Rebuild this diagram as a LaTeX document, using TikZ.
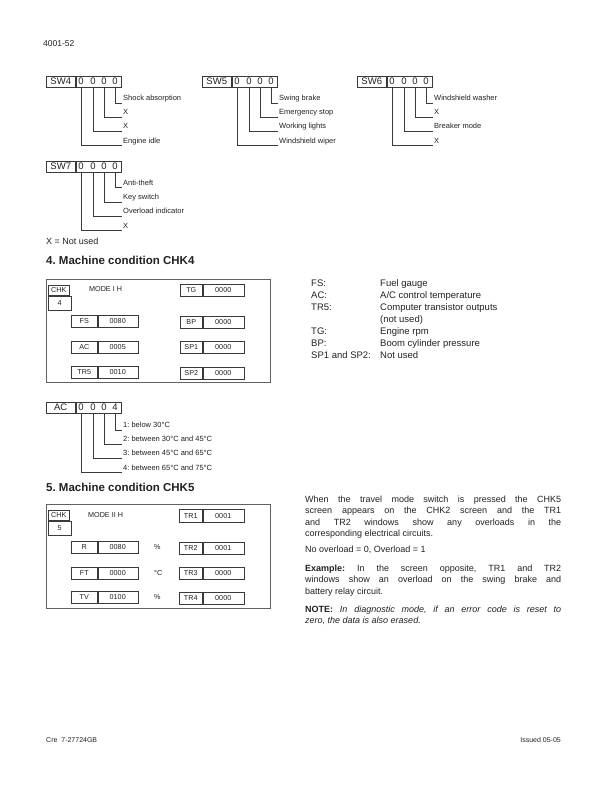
\documentclass[tikz,border=0pt]{standalone}
\usepackage{fontspec}
\setmainfont{Liberation Sans}
\usetikzlibrary{positioning}
\definecolor{inkgrey}{HTML}{222222}
\definecolor{wiregrey}{HTML}{3A3A3A}

\begin{document}
\frenchspacing
\begin{tikzpicture}[
  x=1pt, y=-1pt,
  font=\fontsize{7.5}{9}\selectfont, text=inkgrey,
  cell/.style={draw=wiregrey, line width=0.5pt, minimum height=11.5pt, inner sep=0pt, anchor=north west, font=\fontsize{9.5}{11}\selectfont},
  bit/.style={inner sep=0pt, font=\fontsize{9.5}{11}\selectfont},
  bitlabel/.style={anchor=base west, inner sep=1pt},
  wire/.style={draw=wiregrey, line width=0.5pt},
  scr/.style={draw=wiregrey, line width=0.5pt, minimum height=12pt, inner sep=0pt, anchor=north west, font=\fontsize{7.2}{8}\selectfont},
  scrtext/.style={inner sep=0pt, font=\fontsize{7.2}{8}\selectfont},
  frame/.style={draw=wiregrey!80, line width=0.7pt, inner sep=0pt, anchor=north west},
  body/.style={font=\fontsize{9}{11.3}\selectfont, anchor=north west, inner sep=0pt, text width=256pt, align=justify},
  heading/.style={font=\bfseries\fontsize{11.5}{13}\selectfont, anchor=west, inner sep=0pt}
]
\useasboundingbox[fill=white] (0,0) rectangle (612,792);

\node[anchor=west, inner sep=0pt, font=\fontsize{8.5}{10}\selectfont] (pageno) at (43,44) {4001-52};

% SW4
\node[cell, minimum width=29pt] (sw4) at (46,75.5) {SW4};
\node[cell, minimum width=45pt, right=0pt of sw4] (sw4v) {};
\node[bit] (sw4a) at (81,81.25) {0};
\node[bit] (sw4b) at (93,81.25) {0};
\node[bit] (sw4c) at (104,81.25) {0};
\node[bit] (sw4d) at (115,81.25) {0};
\node[bitlabel] (sw4l1) at (122,100.5) {Shock absorption};
\node[bitlabel] (sw4l2) at (122,114.5) {X};
\node[bitlabel] (sw4l3) at (122,128.5) {X};
\node[bitlabel] (sw4l4) at (122,143) {Engine idle};
\draw[wire] (sw4d |- sw4v.south) |- ([yshift=-2.5pt]sw4l1.base west);
\draw[wire] (sw4c |- sw4v.south) |- ([yshift=-2.5pt]sw4l2.base west);
\draw[wire] (sw4b |- sw4v.south) |- ([yshift=-2.5pt]sw4l3.base west);
\draw[wire] (sw4a |- sw4v.south) |- ([yshift=-2.5pt]sw4l4.base west);

% SW5
\node[cell, minimum width=29pt] (sw5) at (202,75.5) {SW5};
\node[cell, minimum width=45pt, right=0pt of sw5] (sw5v) {};
\node[bit] (sw5a) at (237,81.25) {0};
\node[bit] (sw5b) at (249,81.25) {0};
\node[bit] (sw5c) at (260,81.25) {0};
\node[bit] (sw5d) at (271,81.25) {0};
\node[bitlabel] (sw5l1) at (278,100.5) {Swing brake};
\node[bitlabel] (sw5l2) at (278,114.5) {Emergency stop};
\node[bitlabel] (sw5l3) at (278,128.5) {Working lights};
\node[bitlabel] (sw5l4) at (278,143) {Windshield wiper};
\draw[wire] (sw5d |- sw5v.south) |- ([yshift=-2.5pt]sw5l1.base west);
\draw[wire] (sw5c |- sw5v.south) |- ([yshift=-2.5pt]sw5l2.base west);
\draw[wire] (sw5b |- sw5v.south) |- ([yshift=-2.5pt]sw5l3.base west);
\draw[wire] (sw5a |- sw5v.south) |- ([yshift=-2.5pt]sw5l4.base west);

% SW6
\node[cell, minimum width=29pt] (sw6) at (357,75.5) {SW6};
\node[cell, minimum width=45pt, right=0pt of sw6] (sw6v) {};
\node[bit] (sw6a) at (392,81.25) {0};
\node[bit] (sw6b) at (404,81.25) {0};
\node[bit] (sw6c) at (415,81.25) {0};
\node[bit] (sw6d) at (426,81.25) {0};
\node[bitlabel] (sw6l1) at (433,100.5) {Windshield washer};
\node[bitlabel] (sw6l2) at (433,114.5) {X};
\node[bitlabel] (sw6l3) at (433,128.5) {Breaker mode};
\node[bitlabel] (sw6l4) at (433,143) {X};
\draw[wire] (sw6d |- sw6v.south) |- ([yshift=-2.5pt]sw6l1.base west);
\draw[wire] (sw6c |- sw6v.south) |- ([yshift=-2.5pt]sw6l2.base west);
\draw[wire] (sw6b |- sw6v.south) |- ([yshift=-2.5pt]sw6l3.base west);
\draw[wire] (sw6a |- sw6v.south) |- ([yshift=-2.5pt]sw6l4.base west);

% SW7
\node[cell, minimum width=29pt] (sw7) at (46,160.5) {SW7};
\node[cell, minimum width=45pt, right=0pt of sw7] (sw7v) {};
\node[bit] (sw7a) at (81,166.25) {0};
\node[bit] (sw7b) at (93,166.25) {0};
\node[bit] (sw7c) at (104,166.25) {0};
\node[bit] (sw7d) at (115,166.25) {0};
\node[bitlabel] (sw7l1) at (122,185) {Anti-theft};
\node[bitlabel] (sw7l2) at (122,199.5) {Key switch};
\node[bitlabel] (sw7l3) at (122,213.5) {Overload indicator};
\node[bitlabel] (sw7l4) at (122,228) {X};
\draw[wire] (sw7d |- sw7v.south) |- ([yshift=-2.5pt]sw7l1.base west);
\draw[wire] (sw7c |- sw7v.south) |- ([yshift=-2.5pt]sw7l2.base west);
\draw[wire] (sw7b |- sw7v.south) |- ([yshift=-2.5pt]sw7l3.base west);
\draw[wire] (sw7a |- sw7v.south) |- ([yshift=-2.5pt]sw7l4.base west);

\node[anchor=west, inner sep=0pt, font=\fontsize{9}{11}\selectfont] (notused) at (46,241) {X = Not used};

% CHK4
\node[heading] (h4) at (46,260) {4. Machine condition CHK4};
\node[frame, minimum width=224pt, minimum height=103pt] (chk4) at (46,279) {};
\node[scr, minimum width=21pt, minimum height=10pt] (chk4a) at (48,285) {CHK};
\node[scr, minimum width=23pt, minimum height=14pt, below=0pt of chk4a.south west, anchor=north west] (chk4b) {4};
\node[scrtext, anchor=west] (mode4) at (89,289) {MODE I H};
\node[scr, minimum width=26pt] (fs) at (71,315) {FS};
\node[scr, minimum width=40pt, right=0pt of fs] (fsv) {0080};
\node[scr, minimum width=26pt, below=13pt of fs] (ac) {AC};
\node[scr, minimum width=40pt, right=0pt of ac] (acv) {0005};
\node[scr, minimum width=26pt, below=13pt of ac] (tr5) {TR5};
\node[scr, minimum width=40pt, right=0pt of tr5] (tr5v) {0010};
\node[scr, minimum width=22pt] (tg) at (180,284) {TG};
\node[scr, minimum width=41pt, right=0pt of tg] (tgv) {0000};
\node[scr, minimum width=22pt, below=19pt of tg] (bp) {BP};
\node[scr, minimum width=41pt, right=0pt of bp] (bpv) {0000};
\node[scr, minimum width=22pt, below=13pt of bp] (sp1) {SP1};
\node[scr, minimum width=41pt, right=0pt of sp1] (sp1v) {0000};
\node[scr, minimum width=22pt, below=13pt of sp1] (sp2) {SP2};
\node[scr, minimum width=41pt, right=0pt of sp2] (sp2v) {0000};

\node[anchor=north west, inner sep=0pt, font=\fontsize{9.5}{12}\selectfont] (legend4) at (311,277.5) {%
  \begin{tabular}{@{}p{69pt}@{}l@{}}
  FS: & Fuel gauge\\
  AC: & A/C control temperature\\
  TR5: & Computer transistor outputs\\
   & (not used)\\
  TG: & Engine rpm\\
  BP: & Boom cylinder pressure\\
  SP1 and SP2: & Not used
  \end{tabular}};

% AC register
\node[cell, minimum width=29pt] (acr) at (46,401.5) {AC};
\node[cell, minimum width=45pt, right=0pt of acr] (acrv) {};
\node[bit] (acra) at (81,407.25) {0};
\node[bit] (acrb) at (93,407.25) {0};
\node[bit] (acrc) at (104,407.25) {0};
\node[bit] (acrd) at (115,407.25) {4};
\node[bitlabel] (acl1) at (122,427.5) {1: below 30°C};
\node[bitlabel] (acl2) at (122,441.5) {2: between 30°C and 45°C};
\node[bitlabel] (acl3) at (122,455.5) {3: between 45°C and 65°C};
\node[bitlabel] (acl4) at (122,470) {4: between 65°C and 75°C};
\draw[wire] (acrd |- acrv.south) |- ([yshift=-2.5pt]acl1.base west);
\draw[wire] (acrc |- acrv.south) |- ([yshift=-2.5pt]acl2.base west);
\draw[wire] (acrb |- acrv.south) |- ([yshift=-2.5pt]acl3.base west);
\draw[wire] (acra |- acrv.south) |- ([yshift=-2.5pt]acl4.base west);

% CHK5
\node[heading] (h5) at (46,487) {5. Machine condition CHK5};
\node[frame, minimum width=224pt, minimum height=104pt] (chk5) at (46,504) {};
\node[scr, minimum width=21pt, minimum height=10pt] (chk5a) at (48,510) {CHK};
\node[scr, minimum width=23pt, minimum height=14pt, below=0pt of chk5a.south west, anchor=north west] (chk5b) {5};
\node[scrtext, anchor=west] (mode5) at (88,515) {MODE II H};
\node[scr, minimum width=26pt] (r) at (71,541) {R};
\node[scr, minimum width=40pt, right=0pt of r] (rv) {0080};
\node[scr, minimum width=26pt, below=13pt of r] (ft) {FT};
\node[scr, minimum width=40pt, right=0pt of ft] (ftv) {0000};
\node[scr, minimum width=26pt, below=12pt of ft] (tv) {TV};
\node[scr, minimum width=40pt, right=0pt of tv] (tvv) {0100};
\node[scrtext, right=16pt of rv] (ru) {\%};
\node[scrtext, right=16pt of ftv] (ftu) {°C};
\node[scrtext, right=16pt of tvv] (tvu) {\%};
\node[scr, minimum width=23pt, minimum height=13pt] (tr1) at (179,509) {TR1};
\node[scr, minimum width=41pt, minimum height=13pt, right=0pt of tr1] (tr1v) {0001};
\node[scr, minimum width=23pt, below=19pt of tr1] (tr2) {TR2};
\node[scr, minimum width=41pt, right=0pt of tr2] (tr2v) {0001};
\node[scr, minimum width=23pt, below=13pt of tr2] (tr3) {TR3};
\node[scr, minimum width=41pt, right=0pt of tr3] (tr3v) {0000};
\node[scr, minimum width=23pt, below=12pt of tr3] (tr4) {TR4};
\node[scr, minimum width=41pt, right=0pt of tr4] (tr4v) {0000};

\node[body] (p1) at (305,495.75) {When the travel mode switch is pressed the CHK5\linebreak screen appears on the CHK2 screen and the TR1\linebreak and TR2 windows show any overloads in the\linebreak corresponding electrical circuits.};
\node[body] (p2) at (305,545.75) {No overload = 0, Overload = 1};
\node[body] (p3) at (305,564.75) {\textbf{Example:} In the screen opposite, TR1 and TR2\linebreak windows show an overload on the swing brake and\linebreak battery relay circuit.};
\node[body] (p4) at (305,605.75) {\textbf{NOTE:} \textit{In diagnostic mode, if an error code is reset to\linebreak zero, the data is also erased.}};

\node[anchor=west, inner sep=0pt, font=\fontsize{7}{9}\selectfont] (foot1) at (46,740) {Cre\ \ 7-27724GB};
\node[anchor=east, inner sep=0pt, font=\fontsize{7}{9}\selectfont] (foot2) at (561,740) {Issued 05-05};
\end{tikzpicture}
\end{document}
